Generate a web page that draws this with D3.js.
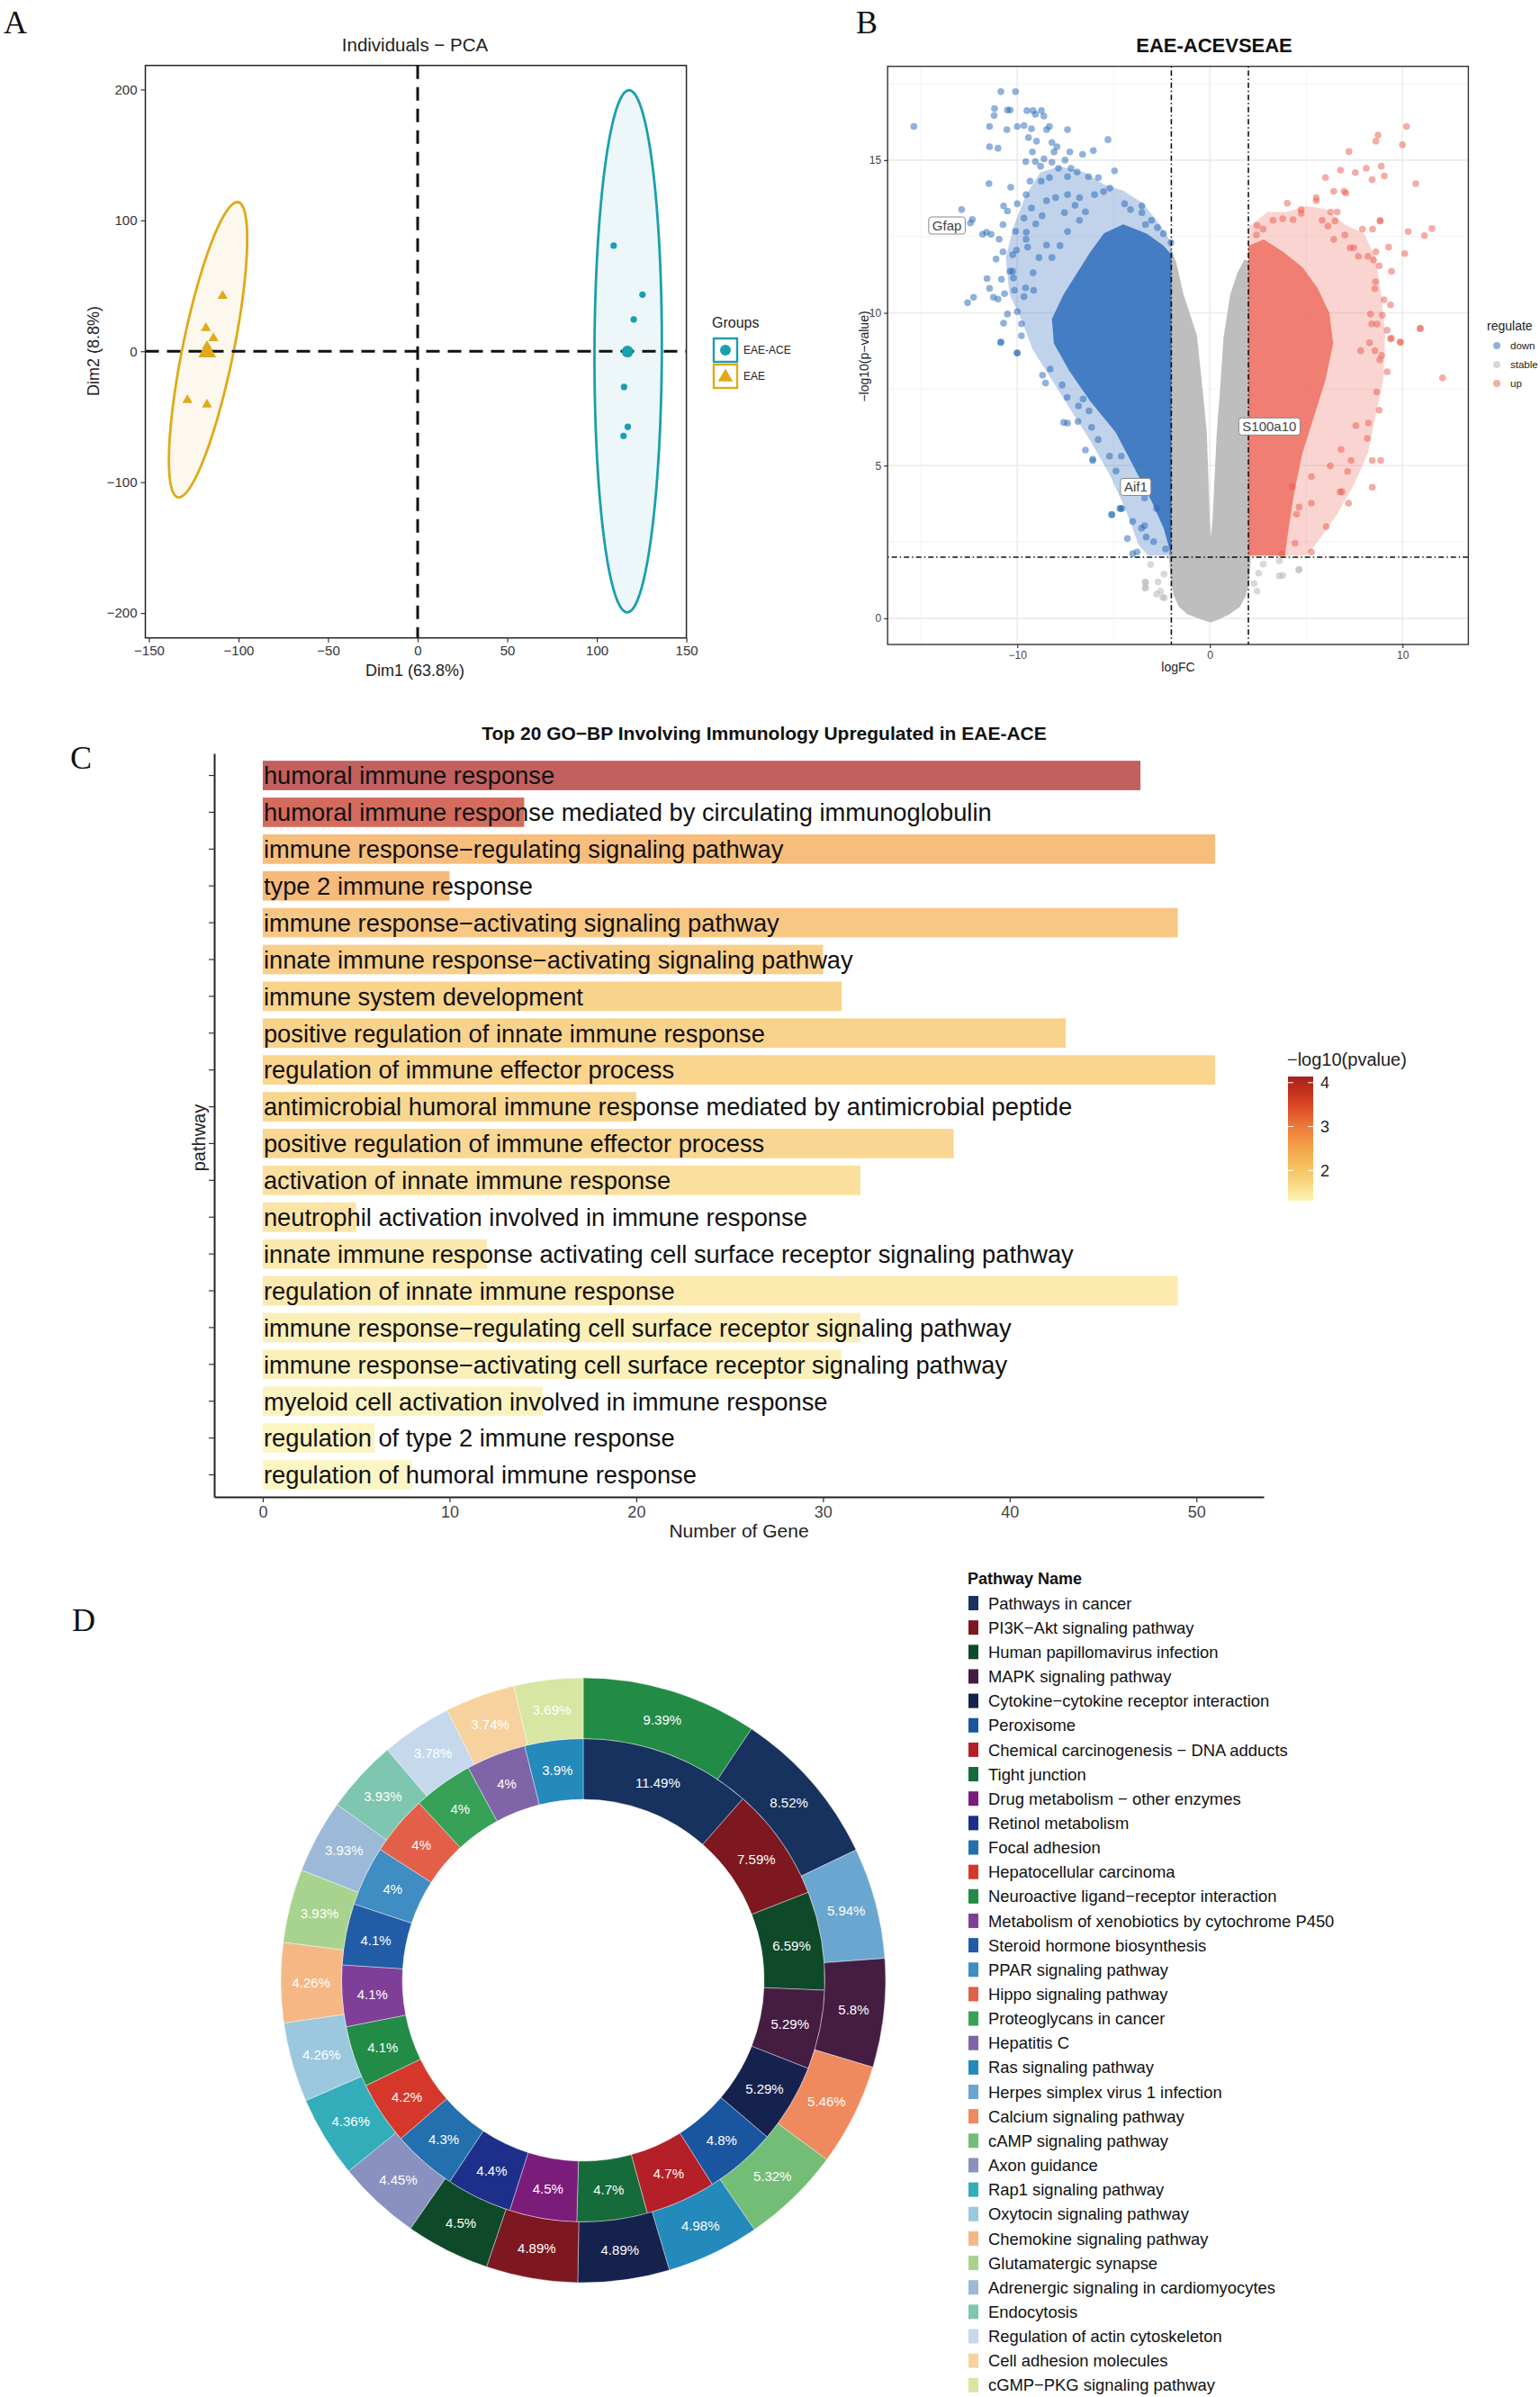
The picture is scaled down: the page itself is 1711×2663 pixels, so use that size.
<!DOCTYPE html>
<html>
<head>
<meta charset="utf-8">
<script src="https://cdn.jsdelivr.net/npm/d3@7"></script>
<style>
  body { margin: 0; background: #fff; }
  svg { display: block; }
  text { font-family: "Liberation Sans", Arial, sans-serif; }
</style>
</head>
<body>
<svg id="fig" width="1711" height="2663"></svg>
<script>
// ---------- A: PCA ----------
const pcaGroups = ["EAE-ACE", "EAE"];
const pcaEaeAce = [[109.4, 80.7], [125.5, 43.3], [120.6, 24.3], [115.2, -27.3], [117.3, -57.7], [114.9, -64.7]];
const pcaEae = [[-108.9, 42.3], [-118.2, 17.7], [-114, 10], [-117.6, 4], [-128.5, -37.3], [-117.6, -40.7]];
// concentration ellipses: centre, half axis (top) and horizontal half width, in data units
const pcaEllipseEaeAce = {cx: 117.5, cy: 0, ax: 0.5, ay: 199.5, bx: 18.8};
const pcaEllipseEae = {cx: -117, cy: 1.2, ax: 16.35, ay: 112.8, bx: 14.5};
const pcaXTicks = [-150, -100, -50, 0, 50, 100, 150];
const pcaYTicks = [-200, -100, 0, 100, 200];

// ---------- B: volcano ----------
const volcanoDown = [[-15.37,16.1],[-10.85,17.24],[-10.09,17.24],[-11.18,16.69],[-11.2,16.46],[-10.51,16.64],[-10.37,16.64],[-9.5,16.62],[-9.18,16.62],[-9.06,16.5],[-8.75,16.62],[-8.62,16.44],[-11.44,16.1],[-10.54,16.0],[-10.0,16.1],[-9.65,16.13],[-9.26,16.03],[-8.33,16.1],[-8.48,16.0],[-7.39,16.0],[-9.42,15.74],[-9.0,15.62],[-8.2,15.58],[-7.94,15.44],[-11.44,15.44],[-11.0,15.39],[-9.21,15.27],[-8.09,15.27],[-7.27,15.27],[-6.61,15.19],[-6.05,15.31],[-5.29,15.67],[-9.56,14.95],[-9.06,14.95],[-8.61,15.04],[-8.79,14.8],[-8.2,14.93],[-7.52,15.0],[-7.86,14.73],[-7.21,14.73],[-6.89,14.61],[-6.3,14.46],[-5.79,14.43],[-4.95,14.65],[-11.47,14.23],[-10.34,14.11],[-9.34,14.31],[-8.76,14.31],[-8.33,14.43],[-7.39,14.46],[-5.19,14.08],[-9.54,13.87],[-10.0,13.57],[-10.71,13.5],[-10.51,13.33],[-12.89,13.38],[-12.33,13.06],[-12.43,12.94],[-11.8,12.57],[-11.6,12.64],[-11.36,12.57],[-10.74,12.89],[-10.94,12.41],[-10.09,12.67],[-9.53,12.64],[-9.04,12.91],[-9.65,13.1],[-8.71,13.18],[-9.26,13.43],[-8.48,13.67],[-10.74,12.0],[-11.1,11.76],[-10.24,11.9],[-10.04,12.05],[-9.54,12.41],[-9.46,12.15],[-10.24,11.36],[-11.57,11.12],[-10.82,11.1],[-10.2,11.14],[-11.44,10.8],[-12.27,10.51],[-12.58,10.33],[-11.24,10.51],[-11.0,10.45],[-10.66,10.63],[-10.15,10.74],[-9.57,10.82],[-9.65,10.53],[-9.15,10.74],[-10.51,9.96],[-10.0,10.04],[-9.78,9.64],[-10.71,9.66],[-10.85,9.05],[-10.0,8.69],[-9.78,9.25],[-10.38,11.36],[-9.18,11.31],[-8.87,11.81],[-8.48,12.22],[-8.2,11.81],[-7.78,12.2],[-7.39,12.66],[-6.77,13.03],[-6.46,13.31],[-7.0,13.52],[-7.55,13.28],[-8.01,13.77],[-7.39,13.87],[-6.77,13.77],[-5.99,13.87],[-5.52,13.97],[-4.43,13.57],[-3.53,13.5],[-3.53,13.28],[-3.03,13.03],[-4.12,13.38],[-3.34,12.89],[-2.72,12.79],[-2.41,12.59],[-2.02,12.3],[-10.01,8.68],[-10.86,9.02],[-8.69,7.96],[-8.53,7.7],[-7.67,7.64],[-8.29,8.16],[-7.59,6.41],[-7.39,6.39],[-6.85,6.44],[-7.41,7.23],[-6.82,6.95],[-6.58,7.18],[-6.27,6.79],[-6.14,6.25],[-5.8,5.85],[-6.46,5.51],[-6.08,5.21],[-5.21,5.31],[-4.6,5.31],[-4.87,4.82],[-4.67,3.59],[-5.1,3.4],[-4.56,3.59],[-4.01,3.17],[-4.28,2.61],[-3.55,2.95],[-3.31,2.66],[-3.78,2.17],[-4.01,2.12],[-3.39,3.94],[-2.77,3.59],[-2.92,2.51],[-2.3,2.27],[-6.08,5.16],[-4.63,3.6],[-5.09,3.39],[-3.39,3.03]];
const volcanoUp = [[10.21,16.1],[8.73,15.82],[8.62,15.62],[10.0,15.5],[7.22,15.28],[6.78,14.67],[7.55,14.59],[8.12,14.73],[8.9,14.8],[9.06,14.48],[8.42,14.36],[6.0,14.43],[10.69,14.23],[6.43,13.98],[6.97,13.98],[7.06,13.92],[5.52,13.77],[5.52,13.67],[4.02,13.59],[4.74,13.38],[4.74,13.26],[6.27,13.3],[6.61,13.3],[5.83,13.03],[6.5,13.01],[6.13,12.84],[7.92,12.74],[8.45,12.74],[8.84,13.03],[8.84,13.0],[10.29,12.66],[11.14,12.53],[11.53,12.76],[10.12,11.94],[9.28,12.15],[9.43,11.36],[8.62,12.0],[8.79,11.54],[8.5,11.73],[8.21,11.85],[7.71,11.85],[7.28,12.13],[7.47,12.13],[7.01,12.55],[6.43,12.4],[4.32,13.05],[3.78,13.08],[3.28,13.03],[2.45,12.86],[2.76,12.74],[2.42,12.55],[8.6,11.02],[8.56,10.79],[9.04,10.43],[9.38,10.26],[8.95,9.92],[8.34,9.96],[8.4,9.64],[8.68,9.63],[9.2,9.43],[9.38,9.15],[9.88,9.05],[10.91,9.48],[8.92,8.61],[8.57,8.76],[8.29,9.02],[7.83,8.76],[10.93,9.5],[12.08,7.87],[9.9,9.03],[9.43,9.17],[9.2,8.07],[8.82,8.46],[8.66,7.41],[8.79,6.81],[8.23,6.39],[8.87,5.17],[8.43,5.17],[8.17,5.89],[8.43,4.29],[7.33,5.17],[6.81,5.53],[7.58,6.31],[5.27,3.77],[6.04,3.0],[6.76,4.14],[6.86,4.14],[7.2,3.77],[7.15,4.81],[5.27,2.17],[4.63,3.64],[4.5,3.41],[4.29,4.31],[5.27,4.64],[6.25,4.99],[4.42,2.46],[3.73,2.1]];
const volcanoStable = [[-3.08,1.76],[-3.36,1.19],[-3.36,0.99],[-2.69,1.19],[-2.38,1.45],[-2.45,0.69],[-2.77,0.79],[2.76,1.77],[2.53,1.48],[2.3,1.14],[3.61,1.88],[3.78,1.4],[4.62,1.58],[2.45,0.89],[3.6,1.39],[4.63,1.6],[-3.34,1.17],[-3.34,1.0],[-2.57,0.89],[-2.37,0.67]];
// outlines of the regions where the dots merge into solid colour
const stableCloud = [[-2.02,12.0],[-1.8,11.6],[-1.44,10.6],[-0.74,9.25],[-0.45,7.5],[-0.23,6.1],[-0.07,3.15],[0.04,2.17],[0.2,3.15],[0.43,6.1],[0.6,7.5],[0.78,9.2],[1.13,10.6],[1.5,11.3],[1.83,11.7],[2.03,11.6],[2.05,2.0],[1.98,1.2],[1.8,0.75],[1.5,0.4],[1.0,0.18],[0.5,0.02],[0.04,-0.09],[-0.5,0.02],[-1.14,0.18],[-1.55,0.4],[-1.8,0.75],[-1.95,1.2],[-2.05,2.0]];
const downHalo = [[-2,12.3],[-2.6,12.9],[-3.5,13.6],[-4.5,14.0],[-5.5,14.2],[-6.5,14.6],[-7.8,14.8],[-8.8,14.6],[-9.6,13.8],[-10.2,12.8],[-10.6,11.8],[-10.4,10.6],[-9.8,9.8],[-9.2,8.8],[-8.2,7.8],[-7.2,6.8],[-6.2,5.8],[-5.2,4.7],[-4.4,3.6],[-3.7,2.4],[-3.2,2.05],[-2,2.05]];
const downCore = [[-2,2.05],[-2.4,2.95],[-3,3.8],[-3.9,4.9],[-4.9,6.1],[-6.2,7.1],[-7.3,8.1],[-8.1,9.0],[-8.2,9.8],[-7.6,10.6],[-6.9,11.3],[-6.2,12.0],[-5.5,12.6],[-4.5,12.9],[-3.3,12.6],[-2.4,12.2],[-2,11.9]];
const upHalo = [[2,12.8],[3,13.3],[4,13.3],[5,13.5],[6,13.4],[7,12.9],[8,12.6],[8.6,11.8],[8.9,10.6],[9.1,9.2],[9.0,7.8],[8.6,6.6],[8.2,5.4],[7.5,4.4],[6.6,3.4],[5.6,2.5],[5,2.05],[2,2.05]];
const upCore = [[2,2.05],[2,12.2],[2.8,12.4],[3.8,12.0],[4.8,11.5],[5.6,10.8],[6.2,10.0],[6.4,9.0],[6.0,7.8],[5.4,6.6],[4.8,5.4],[4.4,4.2],[4.1,3.0],[3.9,2.05]];
const volcanoLabels = [["Gfap", -13.65, 12.86], ["Aif1", -3.85, 4.3], ["S100a10", 3.09, 6.28]];
const fcCut = 2, pCut = 2;
const regulateNames = ["down", "stable", "up"];

// ---------- C: GO-BP bars ----------
const goTerms = [
  "humoral immune response",
  "humoral immune response mediated by circulating immunoglobulin",
  "immune response−regulating signaling pathway",
  "type 2 immune response",
  "immune response−activating signaling pathway",
  "innate immune response−activating signaling pathway",
  "immune system development",
  "positive regulation of innate immune response",
  "regulation of immune effector process",
  "antimicrobial humoral immune response mediated by antimicrobial peptide",
  "positive regulation of immune effector process",
  "activation of innate immune response",
  "neutrophil activation involved in immune response",
  "innate immune response activating cell surface receptor signaling pathway",
  "regulation of innate immune response",
  "immune response−regulating cell surface receptor signaling pathway",
  "immune response−activating cell surface receptor signaling pathway",
  "myeloid cell activation involved in immune response",
  "regulation of type 2 immune response",
  "regulation of humoral immune response"
];
const goCounts = [47, 14, 51, 10, 49, 30, 31, 43, 51, 20, 37, 32, 5, 12, 49, 32, 31, 15, 6, 8];
const goLogP = [4.1, 3.8, 2.5, 2.55, 2.3, 2.15, 2.05, 2.05, 2.0, 1.98, 1.95, 1.8, 1.7, 1.6, 1.6, 1.5, 1.45, 1.4, 1.37, 1.33];
const goXTicks = [0, 10, 20, 30, 40, 50];
const logPTicks = [2, 3, 4];

// ---------- D: KEGG donut ----------
const pathwayNames = [
  "Pathways in cancer", "PI3K−Akt signaling pathway", "Human papillomavirus infection",
  "MAPK signaling pathway", "Cytokine−cytokine receptor interaction", "Peroxisome",
  "Chemical carcinogenesis − DNA adducts", "Tight junction", "Drug metabolism − other enzymes",
  "Retinol metabolism", "Focal adhesion", "Hepatocellular carcinoma",
  "Neuroactive ligand−receptor interaction", "Metabolism of xenobiotics by cytochrome P450",
  "Steroid hormone biosynthesis", "PPAR signaling pathway", "Hippo signaling pathway",
  "Proteoglycans in cancer", "Hepatitis C", "Ras signaling pathway",
  "Herpes simplex virus 1 infection", "Calcium signaling pathway", "cAMP signaling pathway",
  "Axon guidance", "Rap1 signaling pathway", "Oxytocin signaling pathway",
  "Chemokine signaling pathway", "Glutamatergic synapse", "Adrenergic signaling in cardiomyocytes",
  "Endocytosis", "Regulation of actin cytoskeleton", "Cell adhesion molecules",
  "cGMP−PKG signaling pathway"
];
const pathwayColors = [
  "#17325F", "#7D1820", "#0E4A2A", "#451C42", "#16224E", "#1A56A0", "#B51F27", "#166B3B",
  "#7B1C7B", "#1D2F8A", "#2470AE", "#D5382A", "#228B45", "#7F3F98", "#225CA6", "#3F8DC2",
  "#E2604A", "#37A158", "#7F64A8", "#2489BB", "#6AA6CF", "#EF8A5E", "#74BD76", "#8891C0",
  "#33ADBA", "#9BC8DF", "#F5B885", "#A8D38F", "#9CB9D8", "#7EC6AF", "#C6D9EC", "#F7D29E",
  "#D7E6A2"
];
const innerPct = [11.49, 7.59, 6.59, 5.29, 5.29, 4.8, 4.7, 4.7, 4.5, 4.4, 4.3, 4.2, 4.1, 4.1, 4.1, 4, 4, 4, 4, 3.9];
const outerNames = [
  "Neuroactive ligand−receptor interaction", "Pathways in cancer", "Herpes simplex virus 1 infection",
  "MAPK signaling pathway", "Calcium signaling pathway", "cAMP signaling pathway",
  "Ras signaling pathway", "Cytokine−cytokine receptor interaction", "PI3K−Akt signaling pathway",
  "Human papillomavirus infection", "Axon guidance", "Rap1 signaling pathway",
  "Oxytocin signaling pathway", "Chemokine signaling pathway", "Glutamatergic synapse",
  "Adrenergic signaling in cardiomyocytes", "Endocytosis", "Regulation of actin cytoskeleton",
  "Cell adhesion molecules", "cGMP−PKG signaling pathway"
];
const outerPct = [9.39, 8.52, 5.94, 5.8, 5.46, 5.32, 4.98, 4.89, 4.89, 4.5, 4.45, 4.36, 4.26, 4.26, 3.93, 3.93, 3.93, 3.78, 3.74, 3.69];

const svg = d3.select("#fig");
svg.append("rect").attr("width", 1711).attr("height", 2663).attr("fill", "#fff");
const defs = svg.append("defs");

function letter(t, x, y) {
  svg.append("text").attr("x", x).attr("y", y)
    .style("font-family", "'Liberation Serif', 'Times New Roman', serif")
    .attr("font-size", 36).attr("fill", "#111").text(t);
}
function styleAxis(g, size, color) {
  g.selectAll("text").attr("font-size", size).attr("fill", color);
  g.selectAll("line").attr("stroke", "#333").attr("stroke-width", 1.2);
}

// ================= A =================
letter("A", 4, 37);
const groupColor = d3.scaleOrdinal(pcaGroups, ["#1A9FAF", "#DFAA17"]);
const ax = d3.scaleLinear().domain([-152, 150]).range([161.5, 762.6]);
const ay = d3.scaleLinear().domain([-219, 218.4]).range([708.7, 72.7]);
const gA = svg.append("g");

gA.append("text").attr("x", 461).attr("y", 57).attr("text-anchor", "middle")
  .attr("font-size", 20.5).attr("fill", "#222").text("Individuals − PCA");

const ellLine = d3.line().x(d => ax(d[0])).y(d => ay(d[1])).curve(d3.curveLinearClosed);
[[pcaEllipseEaeAce, "EAE-ACE"], [pcaEllipseEae, "EAE"]].forEach(([e, grp]) => {
  const pts = d3.range(0, 360, 2).map(deg => {
    const t = deg * Math.PI / 180;
    return [e.cx + e.ax * Math.cos(t) + e.bx * Math.sin(t), e.cy + e.ay * Math.cos(t)];
  });
  gA.append("path").attr("d", ellLine(pts))
    .attr("fill", groupColor(grp)).attr("fill-opacity", 0.08)
    .attr("stroke", groupColor(grp)).attr("stroke-width", 2.8);
});

// zero lines
gA.append("line").attr("x1", ax(0)).attr("x2", ax(0)).attr("y1", ay.range()[1]).attr("y2", ay.range()[0])
  .attr("stroke", "#111").attr("stroke-width", 3).attr("stroke-dasharray", "15 9");
gA.append("line").attr("x1", ax.range()[0]).attr("x2", ax.range()[1]).attr("y1", ay(0)).attr("y2", ay(0))
  .attr("stroke", "#111").attr("stroke-width", 3).attr("stroke-dasharray", "15 9");

// points
gA.selectAll("circle.ace").data(pcaEaeAce).join("circle").attr("class", "ace")
  .attr("cx", d => ax(d[0])).attr("cy", d => ay(d[1])).attr("r", 3.6).attr("fill", groupColor("EAE-ACE"));
const tri = d3.symbol(d3.symbolTriangle);
gA.selectAll("path.eae").data(pcaEae).join("path").attr("class", "eae")
  .attr("d", tri.size(55)()).attr("transform", d => `translate(${ax(d[0])},${ay(d[1])})`)
  .attr("fill", groupColor("EAE"));
// group means
const meanAce = [d3.mean(pcaEaeAce, d => d[0]), d3.mean(pcaEaeAce, d => d[1])];
const meanEae = [d3.mean(pcaEae, d => d[0]), d3.mean(pcaEae, d => d[1])];
gA.append("circle").attr("cx", ax(meanAce[0])).attr("cy", ay(meanAce[1])).attr("r", 6.5).attr("fill", groupColor("EAE-ACE"));
gA.append("path").attr("d", d3.symbol(d3.symbolTriangle).size(170)())
  .attr("transform", `translate(${ax(meanEae[0])},${ay(meanEae[1])})`).attr("fill", groupColor("EAE"));

gA.append("rect").attr("x", ax.range()[0]).attr("y", ay.range()[1])
  .attr("width", ax.range()[1] - ax.range()[0]).attr("height", ay.range()[0] - ay.range()[1])
  .attr("fill", "none").attr("stroke", "#222").attr("stroke-width", 1.5);

gA.append("g").attr("transform", `translate(0,${ay.range()[0]})`)
  .call(d3.axisBottom(ax).tickValues(pcaXTicks).tickSize(5).tickPadding(4))
  .call(g => g.select(".domain").remove()).call(g => styleAxis(g, 15, "#333"));
gA.append("g").attr("transform", `translate(${ax.range()[0]},0)`)
  .call(d3.axisLeft(ay).tickValues(pcaYTicks).tickSize(5).tickPadding(4))
  .call(g => g.select(".domain").remove()).call(g => styleAxis(g, 15, "#333"));

gA.append("text").attr("x", 461).attr("y", 751).attr("text-anchor", "middle")
  .attr("font-size", 18).attr("fill", "#222").text("Dim1 (63.8%)");
gA.append("text").attr("transform", "translate(110,390) rotate(-90)").attr("text-anchor", "middle")
  .attr("font-size", 18).attr("fill", "#222").text("Dim2 (8.8%)");

// legend
gA.append("text").attr("x", 791).attr("y", 364).attr("font-size", 16).attr("fill", "#222").text("Groups");
pcaGroups.forEach((grp, i) => {
  const y0 = 376 + i * 29;
  gA.append("rect").attr("x", 793).attr("y", y0).attr("width", 26).attr("height", 26)
    .attr("fill", "#fff").attr("stroke", groupColor(grp)).attr("stroke-width", 2.4);
  if (i === 0) gA.append("circle").attr("cx", 806).attr("cy", y0 + 13).attr("r", 6).attr("fill", groupColor(grp));
  else gA.append("path").attr("d", d3.symbol(d3.symbolTriangle).size(120)())
    .attr("transform", `translate(806,${y0 + 14})`).attr("fill", groupColor(grp));
  gA.append("text").attr("x", 826).attr("y", y0 + 17).attr("font-size", 12).attr("fill", "#222").text(grp);
});

// ================= B =================
letter("B", 951, 37);
const bx = d3.scaleLinear().domain([-16.73, 13.42]).range([986.2, 1631.4]);
const by = d3.scaleLinear().domain([-0.857, 18.07]).range([716, 73.7]);
const regColor = d3.scaleOrdinal(regulateNames, ["#2166B8", "#BEBEBE", "#EC5A4C"]);
const gB = svg.append("g");
defs.append("clipPath").attr("id", "clipB").append("rect")
  .attr("x", bx.range()[0]).attr("y", by.range()[1])
  .attr("width", bx.range()[1] - bx.range()[0]).attr("height", by.range()[0] - by.range()[1]);

gB.append("text").attr("x", 1349).attr("y", 58).attr("text-anchor", "middle")
  .attr("font-size", 22).attr("font-weight", "bold").attr("fill", "#111").text("EAE-ACEVSEAE");

// grid
[-15, -5, 5].forEach(v => gB.append("line").attr("x1", bx(v)).attr("x2", bx(v)).attr("y1", by.range()[1]).attr("y2", by.range()[0]).attr("stroke", "#F2F2F2").attr("stroke-width", 0.9));
[2.5, 7.5, 12.5, 17.5].forEach(v => gB.append("line").attr("y1", by(v)).attr("y2", by(v)).attr("x1", bx.range()[0]).attr("x2", bx.range()[1]).attr("stroke", "#F2F2F2").attr("stroke-width", 0.9));
[-10, 0, 10].forEach(v => gB.append("line").attr("x1", bx(v)).attr("x2", bx(v)).attr("y1", by.range()[1]).attr("y2", by.range()[0]).attr("stroke", "#EBEBEB").attr("stroke-width", 1.6));
[0, 5, 10, 15].forEach(v => gB.append("line").attr("y1", by(v)).attr("y2", by(v)).attr("x1", bx.range()[0]).attr("x2", bx.range()[1]).attr("stroke", "#EBEBEB").attr("stroke-width", 1.6));

const plotB = gB.append("g").attr("clip-path", "url(#clipB)");
const polyB = d3.line().x(d => bx(d[0])).y(d => by(d[1])).curve(d3.curveLinearClosed);
plotB.append("path").attr("d", polyB(stableCloud)).attr("fill", regColor("stable"))
  .attr("stroke", regColor("stable")).attr("stroke-width", 3).attr("stroke-linejoin", "round");
plotB.selectAll("circle.st").data(volcanoStable).join("circle").attr("class", "st")
  .attr("cx", d => bx(d[0])).attr("cy", d => by(d[1])).attr("r", 3.8)
  .attr("fill", regColor("stable")).attr("fill-opacity", 0.6);
plotB.append("path").attr("d", polyB(downHalo)).attr("fill", "#2E6DBC").attr("fill-opacity", 0.3);
plotB.append("path").attr("d", polyB(upHalo)).attr("fill", "#EF6F62").attr("fill-opacity", 0.3);
plotB.append("path").attr("d", polyB(downCore)).attr("fill", "#2E6DBC").attr("fill-opacity", 0.85);
plotB.append("path").attr("d", polyB(upCore)).attr("fill", "#EF6F62").attr("fill-opacity", 0.85);
plotB.selectAll("circle.dn").data(volcanoDown).join("circle").attr("class", "dn")
  .attr("cx", d => bx(d[0])).attr("cy", d => by(d[1])).attr("r", 3.8)
  .attr("fill", regColor("down")).attr("fill-opacity", 0.5);
plotB.selectAll("circle.up").data(volcanoUp).join("circle").attr("class", "up")
  .attr("cx", d => bx(d[0])).attr("cy", d => by(d[1])).attr("r", 3.8)
  .attr("fill", regColor("up")).attr("fill-opacity", 0.5);

// thresholds
[-fcCut, fcCut].forEach(v => plotB.append("line").attr("x1", bx(v)).attr("x2", bx(v))
  .attr("y1", by.range()[1]).attr("y2", by.range()[0])
  .attr("stroke", "#111").attr("stroke-width", 1.6).attr("stroke-dasharray", "1.5 3 6 3"));
plotB.append("line").attr("y1", by(pCut)).attr("y2", by(pCut)).attr("x1", bx.range()[0]).attr("x2", bx.range()[1])
  .attr("stroke", "#111").attr("stroke-width", 1.6).attr("stroke-dasharray", "1.5 3 6 3");

// gene labels
volcanoLabels.forEach(([name, x, y]) => {
  const t = gB.append("text").attr("x", bx(x)).attr("y", by(y)).attr("dy", "0.36em")
    .attr("text-anchor", "middle").attr("font-size", 15).attr("fill", "#444").text(name);
  const w = t.node().getComputedTextLength();
  gB.insert("rect", () => t.node()).attr("x", bx(x) - w / 2 - 4).attr("y", by(y) - 9.5)
    .attr("width", w + 8).attr("height", 19).attr("rx", 3)
    .attr("fill", "#fff").attr("stroke", "#888").attr("stroke-width", 1);
});

gB.append("rect").attr("x", bx.range()[0]).attr("y", by.range()[1])
  .attr("width", bx.range()[1] - bx.range()[0]).attr("height", by.range()[0] - by.range()[1])
  .attr("fill", "none").attr("stroke", "#333").attr("stroke-width", 1.4);
gB.append("g").attr("transform", `translate(0,${by.range()[0]})`)
  .call(d3.axisBottom(bx).tickValues([-10, 0, 10]).tickSize(4).tickPadding(3))
  .call(g => g.select(".domain").remove()).call(g => styleAxis(g, 12, "#444"));
gB.append("g").attr("transform", `translate(${bx.range()[0]},0)`)
  .call(d3.axisLeft(by).tickValues([0, 5, 10, 15]).tickSize(4).tickPadding(3))
  .call(g => g.select(".domain").remove()).call(g => styleAxis(g, 12, "#444"));
gB.append("text").attr("x", 1309).attr("y", 746).attr("text-anchor", "middle")
  .attr("font-size", 14).attr("fill", "#222").text("logFC");
gB.append("text").attr("transform", "translate(965,396) rotate(-90)").attr("text-anchor", "middle")
  .attr("font-size", 14).attr("fill", "#222").text("−log10(p−value)");

gB.append("text").attr("x", 1652).attr("y", 367).attr("font-size", 14).attr("fill", "#222").text("regulate");
regulateNames.forEach((r, i) => {
  const cy = 384 + i * 21;
  gB.append("circle").attr("cx", 1663).attr("cy", cy).attr("r", 4)
    .attr("fill", regColor(r)).attr("fill-opacity", r === "stable" ? 0.6 : 0.5);
  gB.append("text").attr("x", 1678).attr("y", cy).attr("dy", "0.35em")
    .attr("font-size", 11.5).attr("fill", "#222").text(r);
});

// ================= C =================
letter("C", 78, 854);
const cx = d3.scaleLinear().domain([-2.6, 53.6]).range([238, 1404]);
const cy = d3.scaleBand().domain(goTerms).range([837, 1663]).paddingInner(0.2).paddingOuter(0.2);
const logpColor = d3.scaleLinear()
  .domain([1.31, 2, 2.5, 3, 3.5, 4, 4.14])
  .range(["#FBF4B0", "#F7C562", "#F4A44A", "#ED7A38", "#DA4422", "#B3261A", "#A52222"]);
const gC = svg.append("g");

gC.append("text").attr("x", 849).attr("y", 822).attr("text-anchor", "middle")
  .attr("font-size", 21).attr("font-weight", "bold").attr("fill", "#111")
  .text("Top 20 GO−BP Involving Immunology Upregulated in EAE-ACE");

gC.selectAll("rect.bar").data(goTerms).join("rect").attr("class", "bar")
  .attr("x", cx(0)).attr("y", d => cy(d))
  .attr("width", (d, i) => cx(goCounts[i]) - cx(0)).attr("height", cy.bandwidth())
  .attr("fill", (d, i) => logpColor(goLogP[i])).attr("fill-opacity", 0.72);
gC.selectAll("text.term").data(goTerms).join("text").attr("class", "term")
  .attr("x", cx(0) + 1).attr("y", d => cy(d) + cy.bandwidth() / 2).attr("dy", "0.36em")
  .attr("font-size", 27.3).attr("fill", "#111").text(d => d);

gC.append("g").attr("transform", `translate(${cx.range()[0]},0)`)
  .call(d3.axisLeft(cy).tickSize(6).tickSizeOuter(0).tickFormat(""))
  .call(g => g.select(".domain").attr("stroke", "#222").attr("stroke-width", 2))
  .call(g => styleAxis(g, 1, "#333"));
gC.append("g").attr("transform", `translate(0,${cy.range()[1]})`)
  .call(d3.axisBottom(cx).tickValues(goXTicks).tickSize(6).tickSizeOuter(0).tickPadding(4))
  .call(g => g.select(".domain").attr("stroke", "#222").attr("stroke-width", 2))
  .call(g => styleAxis(g, 18, "#444"));
gC.append("text").attr("x", 821).attr("y", 1708).attr("text-anchor", "middle")
  .attr("font-size", 21).attr("fill", "#222").text("Number of Gene");
gC.append("text").attr("transform", "translate(228,1264) rotate(-90)").attr("text-anchor", "middle")
  .attr("font-size", 20).attr("fill", "#222").text("pathway");

// colour bar
const cbY = d3.scaleLinear().domain([1.31, 4.14]).range([1334, 1196]);
const grad = defs.append("linearGradient").attr("id", "logpGrad")
  .attr("x1", 0).attr("y1", 1).attr("x2", 0).attr("y2", 0);
d3.range(0, 1.0001, 0.05).forEach(t => {
  const v = 1.31 + t * (4.14 - 1.31);
  grad.append("stop").attr("offset", t).attr("stop-color", logpColor(v));
});
gC.append("text").attr("x", 1430).attr("y", 1184).attr("font-size", 20).attr("fill", "#222").text("−log10(pvalue)");
gC.append("rect").attr("x", 1431).attr("y", 1196).attr("width", 28).attr("height", 138).attr("fill", "url(#logpGrad)");
logPTicks.forEach(v => {
  gC.append("line").attr("x1", 1431).attr("x2", 1437).attr("y1", cbY(v)).attr("y2", cbY(v)).attr("stroke", "#fff").attr("stroke-width", 1);
  gC.append("line").attr("x1", 1453).attr("x2", 1459).attr("y1", cbY(v)).attr("y2", cbY(v)).attr("stroke", "#fff").attr("stroke-width", 1);
  gC.append("text").attr("x", 1467).attr("y", cbY(v)).attr("dy", "0.36em").attr("font-size", 18).attr("fill", "#222").text(v);
});

// ================= D =================
letter("D", 80, 1812);
const pathColor = d3.scaleOrdinal(pathwayNames, pathwayColors);
const gD = svg.append("g").attr("transform", "translate(648,2200)");
const pie = d3.pie().sort(null).value(d => d.pct);
const rings = [
  {data: innerPct.map((p, i) => ({name: pathwayNames[i], pct: p})), r0: 201, r1: 268.5},
  {data: outerPct.map((p, i) => ({name: outerNames[i], pct: p})), r0: 268.5, r1: 336}
];
rings.forEach(ring => {
  const arc = d3.arc().innerRadius(ring.r0).outerRadius(ring.r1);
  const arcs = pie(ring.data);
  gD.selectAll(null).data(arcs).join("path").attr("d", arc)
    .attr("fill", d => pathColor(d.data.name)).attr("stroke", "#fff").attr("stroke-width", 0.4);
  gD.selectAll(null).data(arcs).join("text")
    .attr("transform", d => `translate(${arc.centroid(d)})`).attr("dy", "0.36em")
    .attr("text-anchor", "middle").attr("font-size", 15).attr("fill", "#fff")
    .text(d => d.data.pct + "%");
});

// legend
const gL = svg.append("g");
gL.append("text").attr("x", 1075).attr("y", 1760).attr("font-size", 18).attr("font-weight", "bold")
  .attr("fill", "#111").text("Pathway Name");
pathwayNames.forEach((name, i) => {
  const yc = 1781 + i * 27.15;
  gL.append("rect").attr("x", 1076).attr("y", yc - 8).attr("width", 11).attr("height", 16).attr("fill", pathColor(name));
  gL.append("text").attr("x", 1098).attr("y", yc).attr("dy", "0.36em").attr("font-size", 18.4)
    .attr("fill", "#111").text(name);
});
</script>
</body>
</html>
